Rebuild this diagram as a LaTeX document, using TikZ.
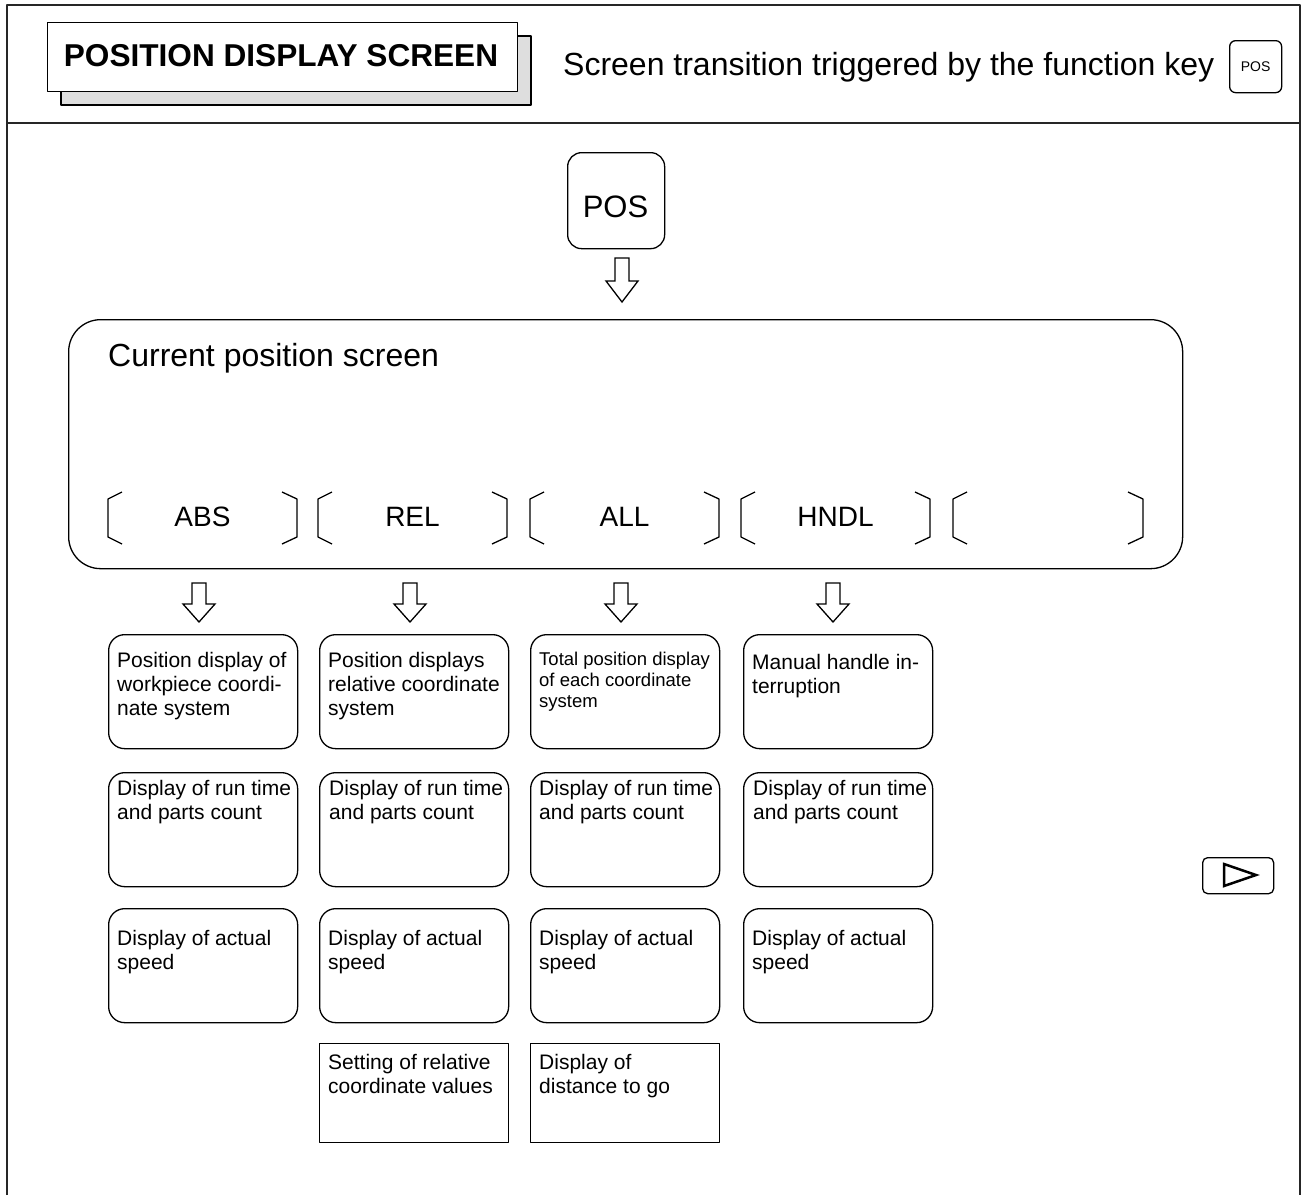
\documentclass[tikz,border=0pt]{standalone}
\usepackage{fontspec}
\setmainfont{Liberation Sans}
\begin{document}
\begin{tikzpicture}[x=1pt,y=-1pt,line join=round,
  frame/.style={line width=2pt, draw=black!85},
  ln/.style={line width=1.3pt, draw=black},
  rbox/.style={ln, rounded corners=16pt, inner sep=0pt, anchor=north west, minimum width=189pt, minimum height=114pt},
  sbox/.style={ln, inner sep=0pt, anchor=north west, minimum width=189pt, minimum height=99pt},
  txt/.style={anchor=north west, inner sep=0pt, align=left, font=\fontsize{21}{24}\selectfont},
  stxt/.style={anchor=north west, inner sep=0pt, align=left, font=\fontsize{18.5}{21}\selectfont},
  skl/.style={anchor=base, inner sep=0pt, font=\fontsize{28}{32}\selectfont},
  brk/.style={line width=1.3pt},
  bigarrow/.pic={\draw[ln, line join=miter] (-7,0) -- (7,0) -- (7,23) -- (16,23) -- (0,44) -- (-16,23) -- (-7,23) -- cycle;},
  downarr/.pic={\draw[ln, line join=miter] (-7,0) -- (7,0) -- (7,21) -- (16,21) -- (0,39) -- (-16,21) -- (-7,21) -- cycle;}
]
\useasboundingbox (0,0) rectangle (1302,1195);
% frame
\draw[frame] (7,1195) -- (7,5) -- (1300,5) -- (1300,1195);
\draw[frame] (7,123) -- (1300,123);
% title
\draw[ln, fill=black!13] (61,36) rectangle (531,105);
\node[ln, fill=white, minimum width=470pt, minimum height=69pt, anchor=north west, inner sep=0pt] (title) at (47,22) {};
\node[anchor=base, inner sep=0pt, font=\bfseries\fontsize{31.6}{36}\selectfont] (titlet) at (281,66) {POSITION DISPLAY SCREEN};
\node[anchor=base west, inner sep=0pt, font=\fontsize{32}{36}\selectfont] (hdr) at (563,75)
  {Screen transition triggered by the function key};
\node[ln, rounded corners=6pt, minimum width=52pt, minimum height=52pt, anchor=north west, inner sep=0pt,
      font=\fontsize{14}{16}\selectfont] (poskey) at (1229,40) {POS};
% POS key
\node[ln, rounded corners=14pt, minimum width=97pt, minimum height=96pt, anchor=north west, inner sep=0pt] (pos) at (567,152) {};
\node[anchor=base, inner sep=0pt, font=\fontsize{31}{36}\selectfont] (post) at (615.5,217) {POS};
\pic at (622,258) {bigarrow};
% current position screen
\node[ln, rounded corners=32pt, minimum width=1114pt, minimum height=249pt, anchor=north west, inner sep=0pt] (scr) at (68,319) {};
\node[anchor=base west, inner sep=0pt, font=\fontsize{32}{36}\selectfont] (scrt) at (108,366) {Current position screen};
\foreach \l/\r in {108/297,318/507,530/719,741/930,953/1143} {
  \draw[brk] (\l+14,492) -- (\l,499) -- (\l,537) -- (\l+14,544);
  \draw[brk] (\r-15,492) -- (\r,499) -- (\r,537) -- (\r-15,544);
}
\node[skl] (kabs) at (202.5,526) {ABS};
\node[skl] (krel) at (412.5,526) {REL};
\node[skl] (kall) at (624.5,526) {ALL};
\node[skl] (khndl) at (835.5,526) {HNDL};
% arrows
\pic at (199,583) {downarr};
\pic at (410,583) {downarr};
\pic at (621,583) {downarr};
\pic at (833,583) {downarr};
% row 1
\node[rbox] (b11) at (108,634) {};
\node[rbox] (b12) at (319,634) {};
\node[rbox] (b13) at (530,634) {};
\node[rbox] (b14) at (743,634) {};
\node[txt] (t11) at (117,650.2) {\strut Position display of\\workpiece coordi-\\nate system};
\node[txt] (t12) at (328,650.2) {\strut Position displays\\relative coordinate\\system};
\node[stxt] (t13) at (539,650.3) {\strut Total position display\\of each coordinate\\system};
\node[txt] (t14) at (752,652.2) {\strut Manual handle in-\\terruption};
% row 2
\node[rbox] (b21) at (108,772) {};
\node[rbox] (b22) at (319,772) {};
\node[rbox] (b23) at (530,772) {};
\node[rbox] (b24) at (743,772) {};
\node[txt] (t21) at (117,778.2) {\strut Display of run time\\and parts count};
\node[txt] (t22) at (329,778.2) {\strut Display of run time\\and parts count};
\node[txt] (t23) at (539,778.2) {\strut Display of run time\\and parts count};
\node[txt] (t24) at (753,778.2) {\strut Display of run time\\and parts count};
% row 3
\node[rbox] (b31) at (108,908) {};
\node[rbox] (b32) at (319,908) {};
\node[rbox] (b33) at (530,908) {};
\node[rbox] (b34) at (743,908) {};
\node[txt] (t31) at (117,928.2) {\strut Display of actual\\speed};
\node[txt] (t32) at (328,928.2) {\strut Display of actual\\speed};
\node[txt] (t33) at (539,928.2) {\strut Display of actual\\speed};
\node[txt] (t34) at (752,928.2) {\strut Display of actual\\speed};
% row 4
\node[sbox] (b42) at (319,1043) {};
\node[sbox] (b43) at (530,1043) {};
\node[txt] (t42) at (328,1052.2) {\strut Setting of relative\\coordinate values};
\node[txt] (t43) at (539,1052.2) {\strut Display of\\distance to go};
% next key
\node[ln, rounded corners=5pt, minimum width=71pt, minimum height=36pt, anchor=north west, inner sep=0pt] (nxt) at (1202,857) {};
\draw[line width=2.5pt, line join=miter] (1224,864) -- (1256,875) -- (1224,886) -- cycle;
\end{tikzpicture}
\end{document}
